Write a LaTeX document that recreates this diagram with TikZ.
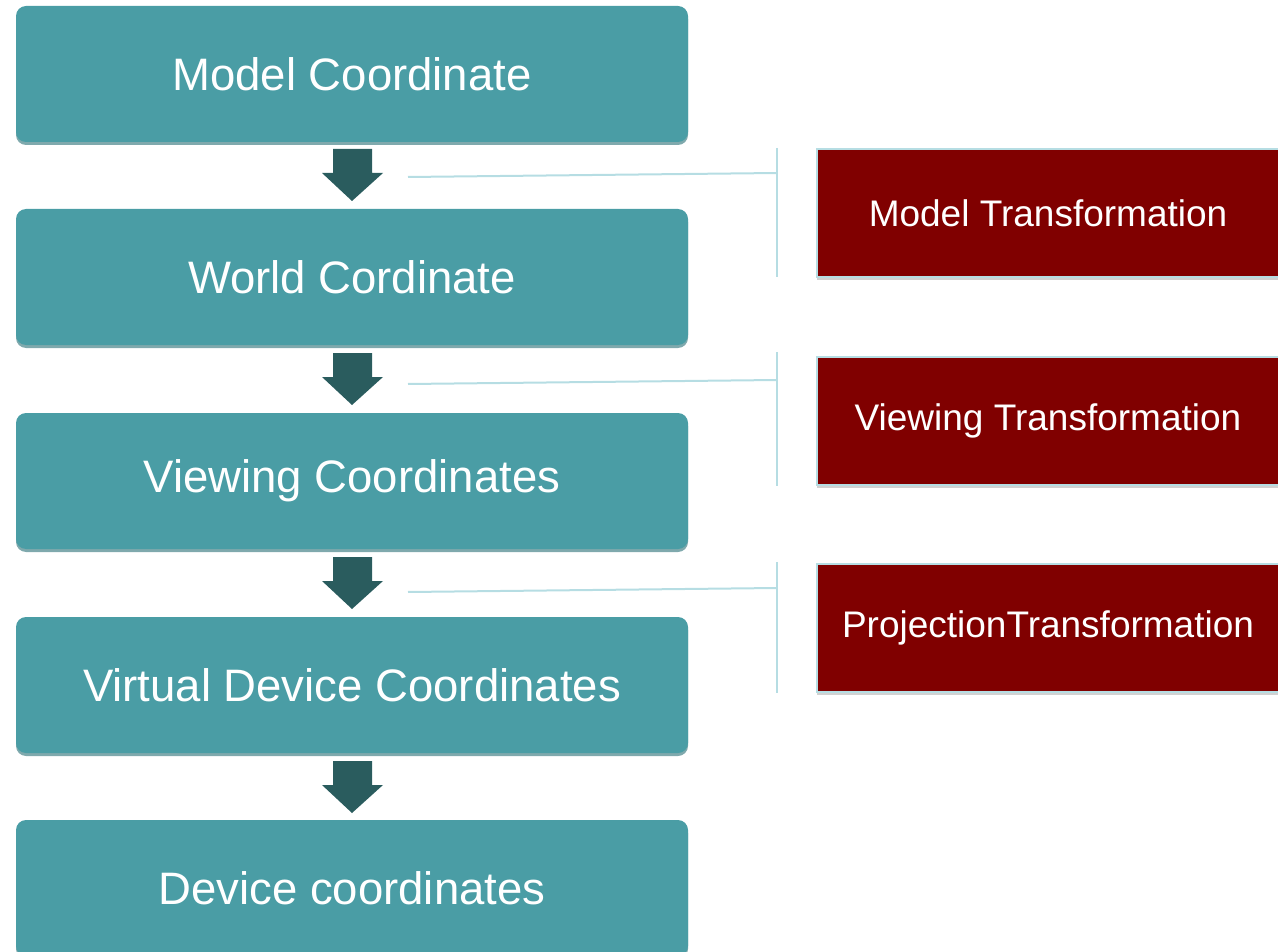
\documentclass[tikz,border=0pt]{standalone}
\usepackage{fontspec}
\setmainfont{Liberation Sans}
\usetikzlibrary{positioning,shapes,shadows,arrows}

\definecolor{tealbox}{HTML}{4A9DA5}
\definecolor{tealshadow}{HTML}{7FA9AD}
\definecolor{darkteal}{HTML}{2A5C5E}
\definecolor{maroonbox}{HTML}{800000}
\definecolor{paleblue}{HTML}{B6DDE3}

\begin{document}
\begin{tikzpicture}[x=1pt,y=-1pt]
\tikzstyle{coord}=[rectangle, rounded corners=10pt, fill=tealbox, text=white,
  minimum width=672pt, minimum height=136pt, inner sep=0pt,
  font=\fontsize{45.5}{50}\selectfont,
  drop shadow={shadow xshift=0pt, shadow yshift=-3pt, fill=tealshadow, opacity=1}]
\tikzstyle{trans}=[rectangle, fill=maroonbox, draw=paleblue, line width=2pt, text=white,
  minimum width=462pt, minimum height=128pt, inner sep=0pt,
  font=\fontsize{37}{42}\selectfont,
  drop shadow={shadow xshift=0pt, shadow yshift=-3pt, fill=black!18, opacity=1}]
\tikzstyle{link}=[paleblue, line width=2pt]
\useasboundingbox (0,0) rectangle (1278,952);
\clip (0,0) rectangle (1278,952);
% coordinate boxes
\node [coord] (model) at (352,74) {Model Coordinate};
\node [coord] (world) at (352,277) {World Cordinate};
\node [coord] (viewing) at (352,481) {Viewing Coordinates};
\node [coord] (virtual) at (352,685) {Virtual Device Coordinates};
\node [coord] (device) at (352,888) {Device coordinates};
% block arrows
\foreach \y in {149,353,557,761}
  \fill [darkteal] (333,\y) -- (372,\y) -- (372,\y+24) -- (383,\y+24)
    -- (352,\y+52) -- (322,\y+24) -- (333,\y+24) -- cycle;
% transformation boxes
\node [trans] (mtrans) at (1048,213) {Model Transformation};
\node [trans] (vtrans) at (1048,421) {Viewing Transformation};
\node [trans] (ptrans) at (1048,628) {ProjectionTransformation};
% brackets
\coordinate (m1) at (408,177);
\coordinate (m2) at (408,384);
\coordinate (m3) at (408,592);
\draw [link] (777,148) -- (777,277);
\draw [link] (777,352) -- (777,486);
\draw [link] (777,562) -- (777,693);
\draw [link] (m1) -- (777,173);
\draw [link] (m2) -- (777,380);
\draw [link] (m3) -- (777,588);
\end{tikzpicture}
\end{document}
